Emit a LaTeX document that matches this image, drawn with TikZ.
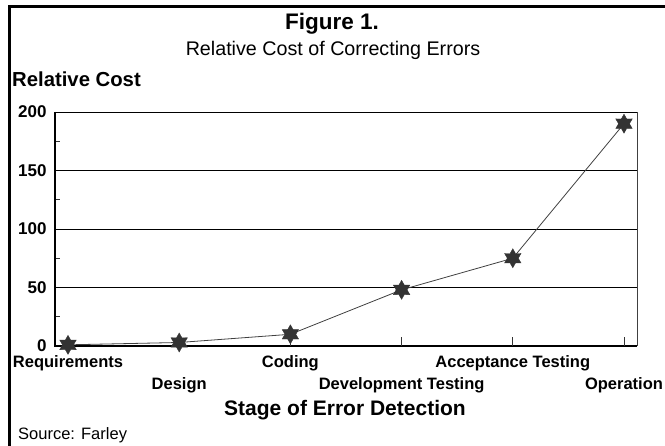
\documentclass[tikz,border=0pt]{standalone}
\usepackage{fontspec}
\setmainfont{Liberation Sans}
\usetikzlibrary{shapes.geometric}

\begin{document}
\begin{tikzpicture}[x=1pt,y=1pt,
    starmark/.style={star, star points=6, star point ratio=1.75, minimum size=19pt,
      inner sep=0pt, fill=black!80, draw=black!80},
    catlabel/.style={font=\fontsize{16.5}{18}\selectfont\bfseries, anchor=base},
    ylabel/.style={font=\fontsize{17}{19}\selectfont\bfseries, anchor=east},
    gridline/.style={black, line width=0.9pt}]

	% Bounding box and frame
	\useasboundingbox (0,0) rectangle (665,446);
	\draw[line width=2.5pt] (9.5,0) -- (9.5,439.5) -- (665,439.5);

	% Titles
	\node[font=\fontsize{22.5}{24}\selectfont\bfseries, anchor=base] (title) at (332,416) {Figure 1.};
	\node[font=\fontsize{19.7}{22}\selectfont, anchor=base] (subtitle) at (333,390) {Relative Cost of Correcting Errors};
	\node[font=\fontsize{20.3}{22}\selectfont\bfseries, anchor=base west, inner sep=0pt] (ytitle) at (12,359) {Relative Cost};

	% Grid lines and y labels
	\foreach \v in {0,50,100,150,200} {
		\draw[gridline] (55,100+1.17*\v) -- (637,100+1.17*\v);
		\node[ylabel] (y\v) at (50,100+1.17*\v) {\v};
	}
	\foreach \v in {25,75,125,175}
		\draw[black!80, line width=0.8pt] (55,100+1.17*\v) -- (60,100+1.17*\v);

	% Plot frame
	\draw[line width=1.2pt] (55,334) -- (55,100) -- (637,100);
	\draw[black!75, line width=1pt] (637,100) -- (637,334);

	% x ticks
	\foreach \i in {0,...,5}
		\draw[black!80, line width=0.8pt] (68+111.2*\i,100) -- (68+111.2*\i,109);

	% Data points
	\coordinate (c1) at (68,100+1.17*1);
	\coordinate (c2) at (179.2,100+1.17*3);
	\coordinate (c3) at (290.4,100+1.17*10);
	\coordinate (c4) at (401.6,100+1.17*48);
	\coordinate (c5) at (512.8,100+1.17*75);
	\coordinate (c6) at (624,100+1.17*190);
	\draw[black!75, line width=0.8pt] (c1) -- (c2) -- (c3) -- (c4) -- (c5) -- (c6);
	\foreach \i in {1,...,6}
		\node[starmark] (p\i) at (c\i) {};

	% Category labels
	\node[catlabel] (requirements) at (68,78) {Requirements};
	\node[catlabel] (design) at (179.2,56) {Design};
	\node[catlabel] (coding) at (290.4,78) {Coding};
	\node[catlabel] (devtesting) at (401.6,56) {Development Testing};
	\node[catlabel] (acctesting) at (512.8,78) {Acceptance Testing};
	\node[catlabel] (operation) at (624,56) {Operation};

	% Axis title and source
	\node[font=\fontsize{21}{23}\selectfont\bfseries, anchor=base] (xtitle) at (345,30) {Stage of Error Detection};
	\node[font=\fontsize{16.5}{18}\selectfont, anchor=base west, inner sep=0pt] (source) at (18,6) {Source: Farley};

\end{tikzpicture}
\end{document}
